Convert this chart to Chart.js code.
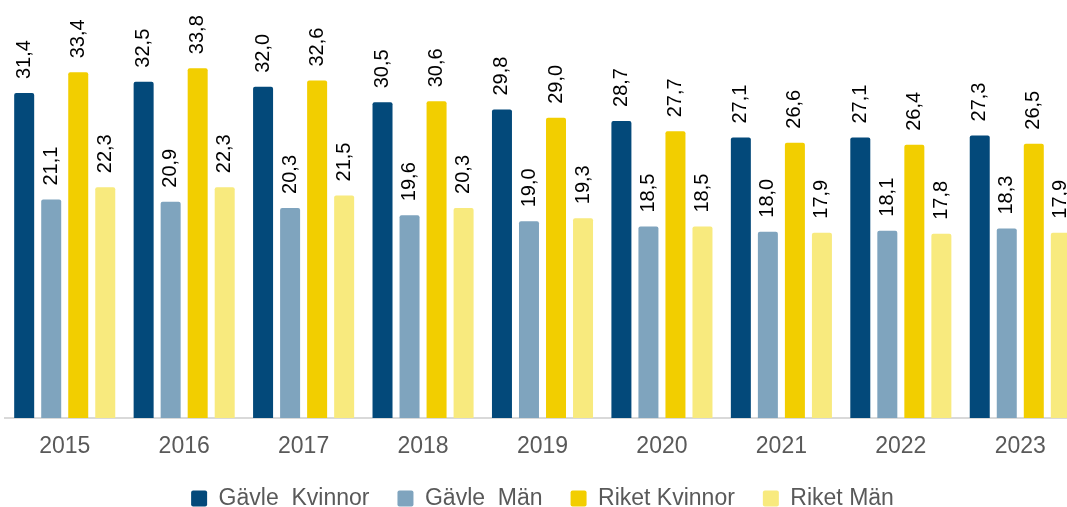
<!DOCTYPE html>
<html>
<head>
<meta charset="utf-8">
<script src="https://cdn.jsdelivr.net/npm/chart.js@4.4.1/dist/chart.umd.min.js"></script>
<style>
  html, body { margin: 0; padding: 0; overflow: hidden; background: #fff; }
  #wrap { width: 1080px; height: 507px; }
</style>
</head>
<body>
<div id="wrap"><canvas id="myChart"></canvas></div>
<script>
const years = ['2015', '2016', '2017', '2018', '2019', '2020', '2021', '2022', '2023'];
const gavleKvinnor = [31.4, 32.5, 32.0, 30.5, 29.8, 28.7, 27.1, 27.1, 27.3];
const gavleMan = [21.1, 20.9, 20.3, 19.6, 19.0, 18.5, 18.0, 18.1, 18.3];
const riketKvinnor = [33.4, 33.8, 32.6, 30.6, 29.0, 27.7, 26.6, 26.4, 26.5];
const riketMan = [22.3, 22.3, 21.5, 20.3, 19.3, 18.5, 17.9, 17.8, 17.9];

// rotated value labels above each bar
const valueLabels = {
    id: 'valueLabels',
    afterDatasetsDraw(chart) {
        const ctx = chart.ctx;
        chart.data.datasets.forEach(function(ds, i) {
            const meta = chart.getDatasetMeta(i);
            meta.data.forEach(function(bar, j) {
                const txt = ds.data[j].toFixed(1).replace('.', ',');
                ctx.save();
                ctx.translate(bar.x, bar.y - 14);
                ctx.rotate(-Math.PI / 2);
                ctx.font = '20px "Liberation Sans", Arial, sans-serif';
                ctx.fillStyle = '#000';
                ctx.textAlign = 'left';
                ctx.textBaseline = 'middle';
                ctx.fillText(txt, 0, 0);
                ctx.restore();
            });
        });
    }
};

const ctx = document.getElementById('myChart').getContext('2d');
const myChart = new Chart(ctx, {
    type: 'bar',
    data: {
        labels: years,
        datasets: [
            { label: 'Gävle  Kvinnor', data: gavleKvinnor, backgroundColor: '#03497a' },
            { label: 'Gävle  Män', data: gavleMan, backgroundColor: '#7fa4be' },
            { label: 'Riket Kvinnor', data: riketKvinnor, backgroundColor: '#f2ce00' },
            { label: 'Riket Män', data: riketMan, backgroundColor: '#f8ea7e' }
        ]
    },
    options: {
        responsive: true,
        maintainAspectRatio: false,
        animation: false,
        layout: { padding: { left: 5, right: 0, top: 4, bottom: -13 } },
        datasets: {
            bar: {
                categoryPercentage: 0.905,
                barPercentage: 0.74,
                borderRadius: 2,
                borderSkipped: 'bottom'
            }
        },
        scales: {
            x: {
                grid: { display: false },
                border: { color: '#d9d9d9', width: 2 },
                ticks: {
                    color: '#595959',
                    font: { family: '"Liberation Sans", Arial, sans-serif', size: 23 },
                    padding: 7
                },
                afterFit: function(scale) {
                    scale.height = 41;
                }
            },
            y: {
                display: false,
                min: 0,
                max: 40
            }
        },
        plugins: {
            legend: {
                position: 'bottom',
                labels: {
                    color: '#595959',
                    font: { family: '"Liberation Sans", Arial, sans-serif', size: 23 },
                    boxWidth: 16,
                    boxHeight: 16,
                    padding: 28,
                    useBorderRadius: true,
                    borderRadius: 2
                }
            },
            tooltip: { enabled: false }
        }
    },
    plugins: [valueLabels]
});
</script>
</body>
</html>
